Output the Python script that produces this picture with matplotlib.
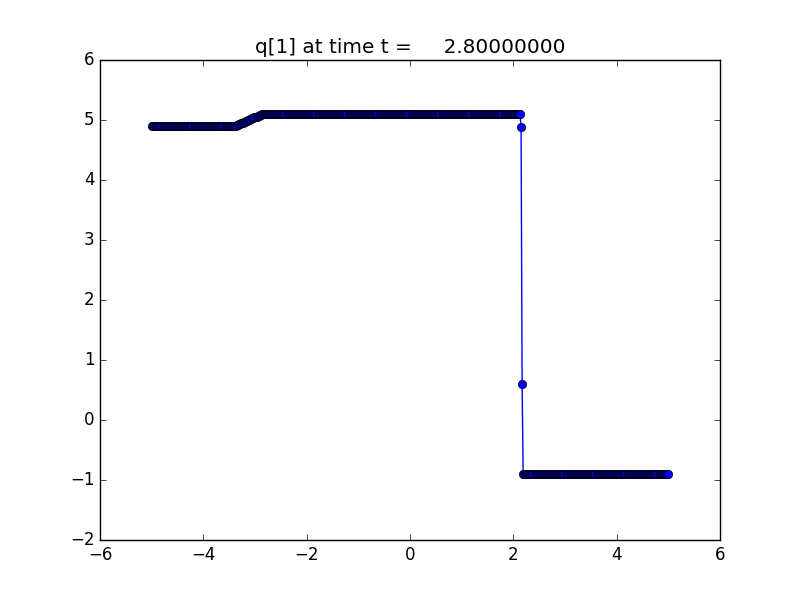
import numpy as np
import matplotlib
matplotlib.use('Agg')
import matplotlib.pyplot as plt

plt.style.use('classic')

# solution q[1] at t = 2.8
t = 2.8
xlower, xupper, mx = -5.0, 5.0, 500
q_left = 4.9          # x < -3.38
q_mid = 5.1           # -2.86 < x < 2.14
q_right = -0.9        # x > 2.18
ramp_x = [-3.38, -2.86]
jump_x = [2.15, 2.17]
jump_q = [4.88, 0.6]

dx = (xupper - xlower) / mx
x = xlower + dx * (np.arange(mx) + 0.5)
q = np.where(x < ramp_x[0], q_left, q_mid)
inramp = (x >= ramp_x[0]) & (x <= ramp_x[1])
q[inramp] = np.interp(x[inramp], ramp_x, [q_left, q_mid])
q[x > jump_x[-1] + dx / 2] = q_right
for xj, qj in zip(jump_x, jump_q):
    q[np.argmin(abs(x - xj))] = qj

fig = plt.figure(figsize=(8, 6), dpi=100)
plt.plot(x, q, 'bo-', mec='k', mew=0.5, lw=1)
plt.xlim(-6, 6)
plt.ylim(-2, 6)
plt.title('q[1] at time t = %14.8f' % t)
plt.savefig('out.png', dpi=100)
